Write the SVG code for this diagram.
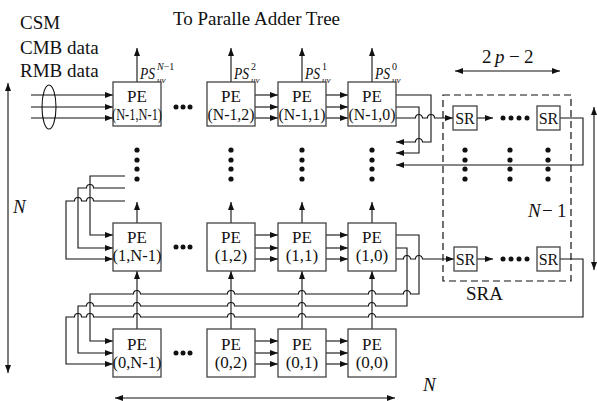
<svg xmlns="http://www.w3.org/2000/svg" width="597" height="401" viewBox="0 0 597 401">
<defs>
<marker id="ah" viewBox="0 0 8 6" refX="8" refY="3" markerWidth="8" markerHeight="6" markerUnits="userSpaceOnUse" orient="auto-start-reverse"><path d="M0,0L8,3L0,6z" fill="#111"/></marker>
</defs>
<style>
text{font-family:"Liberation Serif","Times New Roman",serif;fill:#111}
.box{fill:#fff;stroke:#444;stroke-width:1.3}
.pe{font-size:17px;text-anchor:middle}
.sr{font-size:16px;text-anchor:middle}
.c{fill:none;stroke:#111;stroke-width:1.1}
.ar{marker-end:url(#ah)}
.dbl{marker-start:url(#ah);marker-end:url(#ah)}
.lbl{font-size:19px}
.it{font-style:italic}
.ps{font-size:16px;font-style:italic}
.sup{font-size:10px}
.sub{font-size:9px;font-style:italic}
.dot{fill:#111}
.dash{fill:none;stroke:#111;stroke-width:1.2;stroke-dasharray:7 4}
</style>
<rect width="597" height="401" fill="#fff"/>

<!-- labels -->
<g id="labels">
<text class="lbl" x="173" y="25">To Paralle Adder Tree</text>
<text class="lbl" x="20" y="29">CSM</text>
<text class="lbl" x="20" y="54">CMB data</text>
<text class="lbl" x="20" y="77">RMB data</text>
<text class="lbl it" x="13" y="213">N</text>
<text class="lbl" x="482" y="63">2<tspan class="it" x="495">p</tspan><tspan x="509">−</tspan><tspan x="524">2</tspan></text>
<text class="lbl" x="528" y="217"><tspan class="it">N</tspan><tspan x="542">−</tspan><tspan x="557">1</tspan></text>
<text class="lbl" x="466" y="300">SRA</text>
<text class="lbl it" x="423" y="391">N</text>
<text class="ps" x="140" y="79" textLength="15" lengthAdjust="spacingAndGlyphs">PS</text>
<text class="sup" x="157" y="70"><tspan class="it">N</tspan>−1</text>
<text class="sub" x="157" y="83">uv</text>
<text class="ps" x="234" y="79" textLength="15" lengthAdjust="spacingAndGlyphs">PS</text>
<text class="sup" x="251" y="70">2</text>
<text class="sub" x="251" y="83">uv</text>
<text class="ps" x="305" y="79" textLength="15" lengthAdjust="spacingAndGlyphs">PS</text>
<text class="sup" x="322" y="70">1</text>
<text class="sub" x="322" y="83">uv</text>
<text class="ps" x="375" y="79" textLength="15" lengthAdjust="spacingAndGlyphs">PS</text>
<text class="sup" x="392" y="70">0</text>
<text class="sub" x="392" y="83">uv</text>
</g>

<g id="sra-region">
<rect class="dash" x="443" y="95" width="128" height="186"/>
</g>

<!-- connectors -->
<g id="connectors" class="c">
<ellipse cx="49" cy="107" rx="7" ry="22"/>
<path class="ar" d="M31 95H113"/>
<path class="ar" d="M31 107H113"/>
<path class="ar" d="M31 118H113"/>
<!-- row N-1 -->
<path class="ar" d="M255 95H278"/><path class="ar" d="M255 107H278"/><path class="ar" d="M255 118H278"/>
<path class="ar" d="M326 95H348"/><path class="ar" d="M326 107H348"/><path class="ar" d="M326 118H348"/>
<path class="ar" d="M137 82V48"/><path class="ar" d="M231 82V48"/><path class="ar" d="M302 82V48"/><path class="ar" d="M372 82V48"/>
<path class="ar" d="M396 95H431V142H422.5A3.5 3.5 0 0 0 415.5 142H396"/>
<path class="ar" d="M396 107H419V153H396"/>
<path class="ar" d="M396 118H415.5A3.5 3.5 0 0 1 422.5 118H427.5A3.5 3.5 0 0 1 434.5 118H453"/>
<path class="ar" d="M477 118H493"/>
<path class="ar" d="M560 118H583V165H396"/>
<!-- row 1 -->
<path class="ar" d="M125 176H90V235H113"/>
<path class="ar" d="M125 188H93.5A3.5 3.5 0 0 0 86.5 188H78V248H113"/>
<path class="ar" d="M125 201H93.5A3.5 3.5 0 0 0 86.5 201H81.5A3.5 3.5 0 0 0 74.5 201H66V259H113"/>
<path class="ar" d="M137 223V202"/><path class="ar" d="M231 223V202"/><path class="ar" d="M302 223V202"/><path class="ar" d="M372 223V202"/>
<path class="ar" d="M255 235H278"/><path class="ar" d="M255 248H278"/><path class="ar" d="M255 259H278"/>
<path class="ar" d="M326 235H348"/><path class="ar" d="M326 248H348"/><path class="ar" d="M326 259H348"/>
<path class="ar" d="M396 235H419V294H410.5A3.5 3.5 0 0 0 403.5 294H375.5A3.5 3.5 0 0 0 368.5 294H305.5A3.5 3.5 0 0 0 298.5 294H234.5A3.5 3.5 0 0 0 227.5 294H140.5A3.5 3.5 0 0 0 133.5 294H90V341H113"/>
<path class="ar" d="M396 248H407V306H375.5A3.5 3.5 0 0 0 368.5 306H305.5A3.5 3.5 0 0 0 298.5 306H234.5A3.5 3.5 0 0 0 227.5 306H140.5A3.5 3.5 0 0 0 133.5 306H93.5A3.5 3.5 0 0 0 86.5 306H78V353H113"/>
<path class="ar" d="M396 259H403.5A3.5 3.5 0 0 1 410.5 259H415.5A3.5 3.5 0 0 1 422.5 259H454"/>
<path class="ar" d="M477 259H493"/>
<path class="ar" d="M560 259H583V317H375.5A3.5 3.5 0 0 0 368.5 317H305.5A3.5 3.5 0 0 0 298.5 317H234.5A3.5 3.5 0 0 0 227.5 317H140.5A3.5 3.5 0 0 0 133.5 317H93.5A3.5 3.5 0 0 0 86.5 317H81.5A3.5 3.5 0 0 0 74.5 317H66V364H113"/>
<!-- row 0 -->
<path class="ar" d="M137 329V271"/><path class="ar" d="M231 329V271"/><path class="ar" d="M302 329V271"/><path class="ar" d="M372 329V271"/>
<path class="ar" d="M255 341H278"/><path class="ar" d="M255 353H278"/><path class="ar" d="M255 364H278"/>
<path class="ar" d="M326 341H348"/><path class="ar" d="M326 353H348"/><path class="ar" d="M326 364H348"/>
<!-- dimension arrows -->
<path class="dbl" d="M8 83V373"/>
<path class="dbl" d="M594 107V270"/>
<path class="dbl" d="M115 398H395"/>
<path class="dbl" d="M455 71H560"/>
</g>

<!-- PE nodes -->
<g id="pe-n1-n1"><rect class="box" x="113" y="82" width="48" height="44"/><text class="pe" x="137" y="102">PE</text><text class="pe" x="137" y="120" textLength="50" lengthAdjust="spacingAndGlyphs">(N-1,N-1)</text></g>
<g id="pe-n1-2"><rect class="box" x="207" y="82" width="48" height="44"/><text class="pe" x="231" y="102">PE</text><text class="pe" x="231" y="120" textLength="47" lengthAdjust="spacingAndGlyphs">(N-1,2)</text></g>
<g id="pe-n1-1"><rect class="box" x="278" y="82" width="48" height="44"/><text class="pe" x="302" y="102">PE</text><text class="pe" x="302" y="120" textLength="47" lengthAdjust="spacingAndGlyphs">(N-1,1)</text></g>
<g id="pe-n1-0"><rect class="box" x="348" y="82" width="48" height="44"/><text class="pe" x="372" y="102">PE</text><text class="pe" x="372" y="120" textLength="47" lengthAdjust="spacingAndGlyphs">(N-1,0)</text></g>

<g id="pe-1-n1"><rect class="box" x="113" y="223" width="48" height="48"/><text class="pe" x="137" y="243">PE</text><text class="pe" x="137" y="261" textLength="49" lengthAdjust="spacingAndGlyphs">(1,N-1)</text></g>
<g id="pe-1-2"><rect class="box" x="207" y="223" width="48" height="48"/><text class="pe" x="231" y="243">PE</text><text class="pe" x="231" y="261">(1,2)</text></g>
<g id="pe-1-1"><rect class="box" x="278" y="223" width="48" height="48"/><text class="pe" x="302" y="243">PE</text><text class="pe" x="302" y="261">(1,1)</text></g>
<g id="pe-1-0"><rect class="box" x="348" y="223" width="48" height="48"/><text class="pe" x="372" y="243">PE</text><text class="pe" x="372" y="261">(1,0)</text></g>

<g id="pe-0-n1"><rect class="box" x="113" y="329" width="48" height="48"/><text class="pe" x="137" y="350">PE</text><text class="pe" x="137" y="368" textLength="49" lengthAdjust="spacingAndGlyphs">(0,N-1)</text></g>
<g id="pe-0-2"><rect class="box" x="207" y="329" width="48" height="48"/><text class="pe" x="231" y="350">PE</text><text class="pe" x="231" y="368">(0,2)</text></g>
<g id="pe-0-1"><rect class="box" x="278" y="329" width="48" height="48"/><text class="pe" x="302" y="350">PE</text><text class="pe" x="302" y="368">(0,1)</text></g>
<g id="pe-0-0"><rect class="box" x="348" y="329" width="48" height="48"/><text class="pe" x="372" y="350">PE</text><text class="pe" x="372" y="368">(0,0)</text></g>

<!-- SR nodes -->
<g id="sr-top-1"><rect class="box" x="453" y="106" width="24" height="24"/><text class="sr" x="465" y="124">SR</text></g>
<g id="sr-top-2"><rect class="box" x="537" y="106" width="23" height="24"/><text class="sr" x="548.5" y="124">SR</text></g>
<g id="sr-bot-1"><rect class="box" x="454" y="247" width="23" height="24"/><text class="sr" x="465.5" y="265">SR</text></g>
<g id="sr-bot-2"><rect class="box" x="537" y="247" width="23" height="24"/><text class="sr" x="548.5" y="265">SR</text></g>

<!-- ellipsis dots -->
<g id="dots" class="dot">
<circle cx="176" cy="107" r="2.5"/><circle cx="183" cy="107" r="2.5"/><circle cx="190" cy="107" r="2.5"/>
<circle cx="176" cy="247" r="2.5"/><circle cx="183" cy="247" r="2.5"/><circle cx="190" cy="247" r="2.5"/>
<circle cx="176" cy="353" r="2.5"/><circle cx="183" cy="353" r="2.5"/><circle cx="190" cy="353" r="2.5"/>
<circle cx="503" cy="118" r="2.5"/><circle cx="511" cy="118" r="2.5"/><circle cx="519" cy="118" r="2.5"/><circle cx="527" cy="118" r="2.5"/>
<circle cx="503" cy="259" r="2.5"/><circle cx="511" cy="259" r="2.5"/><circle cx="519" cy="259" r="2.5"/><circle cx="527" cy="259" r="2.5"/>
<circle cx="137" cy="150" r="2.6"/><circle cx="137" cy="160" r="2.6"/><circle cx="137" cy="169" r="2.6"/><circle cx="137" cy="179" r="2.6"/>
<circle cx="231" cy="150" r="2.6"/><circle cx="231" cy="160" r="2.6"/><circle cx="231" cy="169" r="2.6"/><circle cx="231" cy="179" r="2.6"/>
<circle cx="302" cy="150" r="2.6"/><circle cx="302" cy="160" r="2.6"/><circle cx="302" cy="169" r="2.6"/><circle cx="302" cy="179" r="2.6"/>
<circle cx="372" cy="150" r="2.6"/><circle cx="372" cy="160" r="2.6"/><circle cx="372" cy="169" r="2.6"/><circle cx="372" cy="179" r="2.6"/>
<circle cx="465" cy="150" r="2.6"/><circle cx="465" cy="160" r="2.6"/><circle cx="465" cy="169" r="2.6"/><circle cx="465" cy="179" r="2.6"/>
<circle cx="510" cy="150" r="2.6"/><circle cx="510" cy="160" r="2.6"/><circle cx="510" cy="169" r="2.6"/><circle cx="510" cy="179" r="2.6"/>
<circle cx="548" cy="150" r="2.6"/><circle cx="548" cy="160" r="2.6"/><circle cx="548" cy="169" r="2.6"/><circle cx="548" cy="179" r="2.6"/>
</g>
</svg>
